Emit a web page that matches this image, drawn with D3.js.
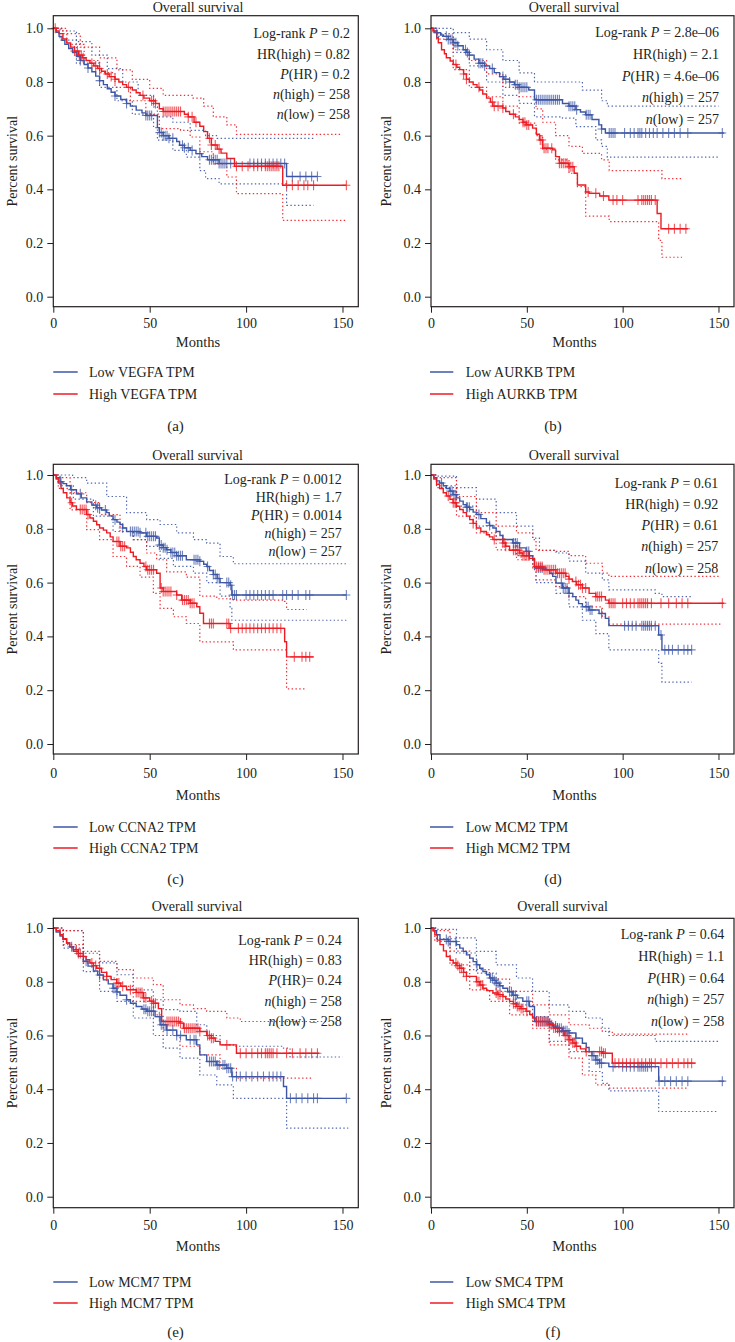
<!DOCTYPE html>
<html><head><meta charset="utf-8">
<script src="https://cdn.jsdelivr.net/npm/d3@7"></script>
<style>
body{margin:0;background:#fff}
svg{display:block}
text{font-family:"Liberation Serif","DejaVu Serif",serif;fill:#231f20}
</style>
</head><body><svg id="c" width="735" height="1342"></svg>
<script>
// ---------------- DATA ----------------
const genes = ["VEGFA","AURKB","CCNA2","MCM2","MCM7","SMC4"];
const captions = ["(a)","(b)","(c)","(d)","(e)","(f)"];
const yTicks = [0,0.2,0.4,0.6,0.8,1.0];
const xTicks = [0,50,100,150];

const stats_a = ["Log-rank *P* = 0.2","HR(high) = 0.82","*P*(HR) = 0.2","*n*(high) = 258","*n*(low) = 258"];
const stats_b = ["Log-rank *P* = 2.8e\u201306","HR(high) = 2.1","*P*(HR) = 4.6e\u201306","*n*(high) = 257","*n*(low) = 257"];
const stats_c = ["Log-rank *P* = 0.0012","HR(high) = 1.7","*P*(HR) = 0.0014","*n*(high) = 257","*n*(low) = 257"];
const stats_d = ["Log-rank *P* = 0.61","HR(high) = 0.92","*P*(HR) = 0.61","*n*(high) = 257","*n*(low) = 258"];
const stats_e = ["Log-rank *P* = 0.24","HR(high) = 0.83","*P*(HR)= 0.24","*n*(high) = 258","*n*(low) = 258"];
const stats_f = ["Log-rank *P* = 0.64","HR(high) = 1.1","*P*(HR) = 0.64","*n*(high) = 257","*n*(low) = 258"];

// (a) VEGFA
const a_low = [[0,1],[1.5,0.985],[3,0.97],[4.5,0.955],[6,0.94],[8,0.925],[10,0.91],[12,0.895],[14,0.88],[16,0.865],[18,0.852],[20,0.838],[22,0.822],[24,0.805],[26,0.79],[28,0.775],[30,0.762],[32,0.748],[35,0.735],[38,0.72],[40,0.71],[43,0.695],[46,0.685],[48,0.675],[54,0.63],[55,0.612],[57,0.6],[60,0.59],[64,0.578],[65.5,0.564],[68,0.555],[71,0.545],[74,0.533],[77,0.522],[80,0.51],[86,0.496],[121,0.448],[137,0.448]];
const a_high = [[0,1],[1.5,0.99],[3,0.98],[5,0.96],[7,0.945],[9,0.93],[11,0.915],[13,0.9],[15,0.89],[17,0.88],[19,0.87],[21,0.86],[23,0.85],[25,0.84],[27,0.83],[29,0.82],[32,0.81],[34,0.8],[36,0.79],[38,0.78],[41,0.77],[43,0.76],[45,0.75],[47,0.74],[50,0.73],[53,0.72],[55,0.7],[57,0.69],[68,0.68],[70,0.67],[73,0.65],[76,0.635],[78,0.615],[80,0.59],[82,0.565],[85,0.55],[87,0.535],[90,0.515],[94,0.486],[119,0.415],[152,0.415]];
const a_low_hi = [[0,1],[4,0.99],[12,0.95],[20,0.9],[28,0.85],[36,0.8],[44,0.75],[52,0.707],[54,0.67],[62,0.65],[71,0.62],[79,0.6],[85,0.59],[135,0.59]];
const a_low_lo = [[0,1],[3.5,0.956],[12,0.87],[24,0.78],[33,0.73],[41,0.68],[52,0.63],[54,0.583],[62,0.545],[69,0.52],[76,0.47],[79,0.44],[86,0.42],[121,0.34],[135,0.34]];
const a_high_hi = [[0,1],[5,0.98],[14,0.93],[24,0.89],[33,0.845],[41,0.81],[50,0.776],[57,0.75],[72,0.74],[78,0.71],[83,0.67],[90,0.64],[95,0.605],[150,0.605]];
const a_high_lo = [[0,1],[7,0.94],[16,0.88],[24,0.835],[32,0.78],[40,0.73],[48,0.68],[55,0.626],[66,0.62],[71,0.595],[76,0.54],[83,0.495],[90,0.446],[95,0.384],[119,0.284],[152,0.284]];
const a_low_cens = [14,18,24,32,38,48,49,50,51,55,56,57,58,59,60,62,67,68,70,72,76,81,82,83,84,85,86,87,88,89,90,92,102,104,106,108,110,112,114,116,118,120,124,128,131,134,137];
const a_high_cens = [1,11,12.5,13.5,14.5,15.5,20,22,24,28,30,32,39,46.5,51,52,53,57,58,59,60,61,62,63,64,65,66,70,72,74,81,82,84,86,95,98,101,104,106,108,110,111,112,113,114,115,116,117,121,124,127,130,132,135,152];

// (b) AURKB
const b_low = [[0,1],[1.5,0.99],[3,0.984],[5,0.975],[6.5,0.97],[9,0.958],[11.6,0.946],[14,0.935],[16.8,0.92],[18.5,0.91],[20,0.9],[22.5,0.885],[25,0.87],[28,0.86],[30.6,0.85],[33,0.835],[35.8,0.82],[38,0.81],[41,0.8],[43.5,0.79],[46,0.78],[51,0.77],[54,0.734],[68.6,0.72],[72,0.71],[75.6,0.697],[78,0.688],[80.7,0.678],[84,0.66],[87.6,0.64],[89,0.625],[91,0.61],[153,0.61]];
const b_high = [[0,1],[1,0.99],[2,0.984],[3,0.965],[3.8,0.946],[5.5,0.92],[7,0.905],[8,0.89],[10,0.878],[11.6,0.865],[13.5,0.855],[15,0.846],[17,0.83],[18.5,0.81],[20,0.8],[22,0.79],[24,0.78],[25.4,0.77],[27,0.755],[29,0.74],[31,0.725],[32.3,0.71],[37.5,0.703],[39,0.69],[41,0.68],[44,0.67],[46,0.66],[48,0.65],[49.6,0.64],[53,0.628],[55,0.605],[56.6,0.584],[58.3,0.553],[63.5,0.547],[65,0.522],[67,0.497],[72,0.484],[74.7,0.46],[76.4,0.416],[80.7,0.39],[82.5,0.385],[88,0.375],[92.8,0.36],[118,0.31],[120,0.253],[134,0.253]];
const b_low_hi = [[0,1],[11.6,0.984],[20,0.96],[29,0.92],[37.5,0.88],[46,0.834],[54,0.8],[79,0.77],[89,0.73],[92,0.71],[150,0.71]];
const b_low_lo = [[0,1],[3,0.97],[11.6,0.91],[20,0.86],[29,0.8],[37.5,0.75],[46,0.72],[54,0.67],[68.6,0.665],[75.6,0.634],[86,0.584],[89,0.56],[92,0.52],[150,0.52]];
const b_high_hi = [[0,1],[3,0.98],[11.6,0.92],[20,0.88],[29,0.83],[37.5,0.78],[46,0.745],[54.8,0.7],[58.3,0.65],[65,0.6],[72,0.56],[79,0.534],[89,0.51],[93,0.47],[119,0.47],[120.5,0.44],[131,0.44]];
const b_high_lo = [[0,1],[3,0.96],[11.6,0.846],[20,0.78],[29,0.745],[37.5,0.71],[46,0.647],[54.8,0.6],[58.3,0.55],[65,0.51],[72,0.46],[76.4,0.41],[80.7,0.3],[93,0.28],[118.8,0.21],[120.5,0.147],[131,0.147]];
const b_low_cens = [3,8,9,10,11,12,13,14,18,19,20,25,26,27,28,32,37.5,39,41,44,45,46,47,48,49,50,55,56,57,58,59,60,61,62,63,64,65,66,67,72,73,74,75,76,81,82,83,89,93,94,95,96,101,104,106,108,109,110,112,114,116,118,121,124,127,130,134,152];
const b_high_cens = [13,17,18.5,25,32,33,35,37.5,43,48,49,50,51,57,58,59,60,61,63,67,68,69,70,71,72,73,74,82,86,90,95,97,100,108,110,111,112,113,114,115,117,124,127,130,133];

// (c) CCNA2
const c_low = [[0,1],[1.5,0.99],[3.5,0.975],[5,0.968],[6.9,0.96],[9,0.945],[12,0.93],[14.5,0.915],[17.3,0.9],[20,0.888],[22.5,0.878],[25,0.87],[27.7,0.86],[29,0.848],[31,0.834],[33,0.825],[34.6,0.816],[36,0.803],[38,0.79],[45,0.785],[48.4,0.772],[53.6,0.766],[55,0.74],[57,0.73],[58.8,0.722],[61,0.712],[64,0.7],[69,0.685],[76,0.679],[78,0.668],[79.6,0.66],[81,0.645],[83,0.63],[85,0.615],[86.5,0.6],[91.7,0.59],[92.6,0.554],[152,0.554]];
const c_high = [[0,1],[1.5,0.985],[2.6,0.97],[4,0.95],[5.2,0.934],[7,0.915],[8.7,0.897],[10,0.885],[12,0.872],[17.3,0.853],[19,0.84],[20.8,0.828],[22.5,0.815],[24,0.803],[26,0.795],[27.7,0.785],[29.5,0.77],[31,0.753],[34.6,0.735],[38,0.729],[40,0.713],[41.5,0.697],[43,0.685],[45,0.672],[47,0.66],[48.4,0.648],[53.6,0.635],[55.4,0.58],[57,0.567],[64,0.554],[66.6,0.535],[71,0.523],[74.4,0.51],[76,0.486],[77.9,0.448],[91.7,0.43],[120,0.38],[121,0.324],[135,0.324]];
const c_low_hi = [[0,1],[10,0.99],[17.3,0.97],[27.7,0.92],[38,0.86],[48.4,0.834],[55.4,0.816],[64,0.785],[72.7,0.76],[79.6,0.747],[86.5,0.697],[93.4,0.67],[152,0.67]];
const c_low_lo = [[0,1],[3.5,0.96],[10.4,0.91],[20.8,0.847],[31,0.79],[41.5,0.76],[48.4,0.735],[55.4,0.69],[62.3,0.66],[72.7,0.635],[79.6,0.6],[86.5,0.55],[91.7,0.504],[92.6,0.46],[152,0.46]];
const c_high_hi = [[0,1],[1.7,0.99],[8.7,0.934],[17.3,0.897],[24,0.853],[34.6,0.79],[41.5,0.76],[48.4,0.71],[53.6,0.685],[58.8,0.64],[69,0.62],[76,0.55],[84.8,0.54],[93.4,0.535],[119.4,0.53],[121,0.5],[131.5,0.5]];
const c_high_lo = [[0,1],[2.6,0.95],[8.7,0.87],[17.3,0.797],[24,0.76],[31,0.697],[38,0.66],[45,0.62],[51.9,0.56],[55.4,0.504],[62.3,0.473],[69,0.448],[76,0.38],[93.4,0.35],[119.4,0.35],[121,0.205],[131.5,0.205]];
const c_low_cens = [4,9.5,14,22,23,24,27,32,36,40,41,42,43,44,45,48,49,50,51,52,53,55,56,57,58,59,61,62,63,64,65,66,67,73,74,75,76,80,83,84,85,86,90,91,92,93,94,95,100,102,104,106,108,110,112,114,119,121,124,127,131,133,152];
const c_high_cens = [9.5,14,15,16,17,18,33,34,35,36,37,48,49,50,51,52,56,57,58,59,60,61,64,67,68,69,70,71,72,73,81,82,83,90,91,92,96,98,100,102,104,106,108,110,112,114,116,118,125,129,131,133];

// (d) MCM2
const d_low = [[0,1],[1.5,0.99],[2.9,0.978],[4.5,0.97],[6.4,0.96],[8,0.95],[9.9,0.94],[11.5,0.927],[13.3,0.915],[15,0.903],[16.8,0.89],[18.5,0.88],[20.2,0.872],[22,0.862],[23.7,0.853],[26,0.838],[28.9,0.822],[30.5,0.812],[32.3,0.803],[34,0.79],[36,0.775],[37.5,0.76],[42.7,0.747],[46.2,0.729],[49.6,0.716],[51.3,0.7],[53.1,0.685],[54,0.654],[60,0.648],[62,0.635],[63.5,0.623],[65.2,0.598],[68.6,0.58],[72,0.56],[74,0.548],[75.6,0.535],[77,0.522],[79,0.51],[82.5,0.498],[87.7,0.485],[91,0.467],[92.8,0.44],[118.8,0.405],[120.5,0.35],[136,0.35]];
const d_high = [[0,1],[1.5,0.985],[2.9,0.965],[4.5,0.95],[6.4,0.934],[8,0.922],[9.9,0.91],[11.5,0.897],[13.3,0.884],[15,0.872],[16.8,0.86],[18.5,0.847],[20.2,0.834],[22,0.82],[23.7,0.803],[26,0.79],[28.9,0.778],[30.5,0.77],[32.3,0.76],[37.5,0.747],[39,0.735],[41,0.72],[46.2,0.71],[48,0.7],[51.3,0.69],[54,0.66],[58.3,0.648],[65.2,0.635],[70.4,0.623],[72,0.613],[73.8,0.604],[76,0.592],[79,0.58],[82.5,0.56],[86,0.548],[91,0.535],[92.8,0.523],[153,0.523]];
const d_low_hi = [[0,1],[2.9,0.996],[13.3,0.953],[23.7,0.91],[34,0.86],[44.6,0.81],[53.1,0.765],[56.6,0.72],[65.2,0.71],[72,0.68],[80.7,0.635],[89.4,0.61],[92.8,0.573],[117,0.56],[120.5,0.548],[136,0.548]];
const d_low_lo = [[0,1],[2.9,0.96],[13.3,0.884],[23.7,0.81],[34,0.76],[44.6,0.7],[53.1,0.66],[54.8,0.6],[65.2,0.56],[72,0.51],[79,0.46],[86,0.41],[92.8,0.35],[118.8,0.3],[120.5,0.23],[136,0.23]];
const d_high_hi = [[0,1],[2.9,0.99],[13.3,0.92],[23.7,0.86],[34,0.81],[44.6,0.785],[53.1,0.76],[54.8,0.72],[65.2,0.716],[72,0.7],[80.7,0.672],[89.4,0.635],[92.8,0.623],[151,0.623]];
const d_high_lo = [[0,1],[2.9,0.953],[13.3,0.847],[23.7,0.785],[34,0.722],[44.6,0.685],[53.1,0.648],[54.8,0.61],[65.2,0.585],[72,0.548],[80.7,0.51],[89.4,0.473],[92.8,0.446],[151,0.446]];
const d_low_cens = [5.5,10,11,12,13,18.5,19,20,25,30.6,37.5,43,44,45,50,51,56,57,58,68,69,70,71,72,81,82,83,84,89,101,103,105,107,110,111,112,113,114,115,117,120,122,124,126,129,132,134,136];
const d_high_cens = [9,11.6,12.5,13,22,33,37.5,38.5,39,43,44,45,46,47,48,49,50,51,55,56,57,58,59,60,61,62,63,64,65,66,67,68,69,70,72,75.6,77,78,79,80.7,86,87,88,89,93,94,95,96,100,102,104,106,108,109,110,111,112,113,115,120,124,128,131,134,152];

// (e) MCM7
const e_low = [[0,1],[1.5,0.985],[3.5,0.97],[5,0.958],[6.9,0.944],[8.5,0.93],[10.4,0.913],[13,0.895],[15.6,0.876],[18,0.858],[20.8,0.84],[23,0.825],[26,0.807],[28.5,0.792],[31,0.776],[33,0.762],[34.6,0.75],[38,0.733],[40,0.72],[43,0.708],[46,0.698],[48.4,0.69],[52.8,0.67],[55.4,0.64],[58.8,0.62],[64,0.6],[69,0.584],[74.4,0.565],[76,0.528],[79.6,0.503],[84.8,0.49],[90,0.478],[92.6,0.447],[119.4,0.41],[121,0.366],[152,0.366]];
const e_high = [[0,1],[1.5,0.99],[3.5,0.975],[5,0.96],[6.9,0.944],[8.5,0.93],[10.4,0.919],[13,0.905],[15.6,0.894],[17,0.882],[19,0.87],[20.8,0.86],[22.5,0.85],[25,0.835],[27.7,0.82],[30,0.808],[32.9,0.795],[35,0.783],[38,0.77],[43,0.76],[46.7,0.74],[50,0.728],[51.9,0.72],[54.5,0.7],[56.2,0.652],[65.7,0.646],[67.5,0.627],[76,0.615],[79.6,0.6],[82,0.59],[84,0.578],[86.5,0.565],[95,0.534],[138,0.534]];
const e_low_hi = [[0,1],[5.2,0.99],[15.6,0.906],[24,0.87],[33,0.826],[41.5,0.77],[51.9,0.733],[57,0.696],[65.7,0.69],[74.4,0.64],[79.6,0.6],[86.5,0.565],[93.4,0.56],[119.4,0.553],[122.8,0.52],[150,0.52]];
const e_low_lo = [[0,1],[5.2,0.925],[15.6,0.838],[24,0.764],[33,0.727],[41.5,0.665],[51.9,0.6],[57,0.553],[65.7,0.516],[76,0.453],[84.8,0.416],[93.4,0.366],[121,0.255],[153,0.255]];
const e_high_hi = [[0,1],[3.5,0.99],[15.6,0.913],[24,0.876],[33,0.845],[41.5,0.814],[51.9,0.789],[57,0.733],[65.7,0.714],[72.7,0.7],[79.6,0.69],[90,0.665],[97,0.652],[145,0.652]];
const e_high_lo = [[0,1],[5.2,0.938],[15.6,0.87],[24,0.814],[33,0.783],[41.5,0.727],[51.9,0.677],[57,0.6],[65.7,0.56],[76,0.528],[86.5,0.478],[95,0.441],[135,0.441]];
const e_low_cens = [9.5,17,24,31,32,33,38,47,48,49,50,51,52,55,56,57,58,59,62,64,66,71,73,74,81,82,83,84,85,86,88,89,90,91,92,93,95,97,100,103,106,109,112,114,116,118,123,126,129,132,135,137,152];
const e_high_cens = [12,13,14,15.6,20,22,24,27.7,33,34,36,40,43,44,45,46,47,48,51,52,53,59,60,61,62,63,64,65,66,68,69,70,71,72,73,74,75,76,80,81,82,83,90,97,100,103,106,108,110,111,112,113,114,116,121,124,128,131,134,137];

// (f) SMC4
const f_low = [[0,1],[1.5,0.99],[2.9,0.975],[4.7,0.957],[9,0.95],[13.3,0.938],[15,0.925],[16.8,0.913],[18.5,0.9],[20.2,0.888],[22,0.875],[23.7,0.863],[25.4,0.85],[27.1,0.838],[29,0.826],[30.6,0.814],[32.3,0.805],[34,0.795],[35.8,0.785],[37.5,0.776],[40,0.763],[42.7,0.75],[45,0.74],[47.9,0.727],[51.3,0.708],[54,0.652],[61.7,0.646],[63.5,0.635],[65.2,0.627],[68.6,0.618],[72,0.609],[75.6,0.59],[79,0.571],[81,0.555],[82.5,0.54],[84,0.525],[86,0.509],[88,0.497],[92.8,0.484],[118.8,0.43],[153,0.43]];
const f_high = [[0,1],[1,0.99],[2,0.975],[3.3,0.955],[4.7,0.938],[6.5,0.915],[8,0.894],[10,0.88],[11.6,0.87],[13.5,0.86],[15,0.85],[17,0.835],[18.5,0.82],[23.7,0.8],[25.5,0.788],[27.1,0.776],[29,0.767],[32.3,0.758],[35,0.752],[37.5,0.745],[39,0.736],[41,0.727],[43,0.718],[44.6,0.708],[47,0.7],[49.6,0.69],[51.5,0.678],[53,0.665],[54.8,0.652],[61.7,0.64],[64,0.628],[66.9,0.615],[69.5,0.6],[72,0.584],[74,0.572],[75.6,0.56],[78,0.55],[80.7,0.54],[89.4,0.534],[94.6,0.497],[138,0.497]];
const f_low_hi = [[0,1],[2.9,0.995],[13.3,0.963],[23.7,0.913],[34,0.863],[44.6,0.814],[53,0.764],[61.7,0.714],[72,0.69],[80.7,0.665],[89.4,0.627],[92.8,0.6],[117,0.578],[150,0.578]];
const f_low_lo = [[0,1],[2.9,0.96],[13.3,0.907],[23.7,0.832],[34,0.764],[44.6,0.714],[53,0.67],[61.7,0.578],[72,0.54],[82.5,0.466],[89.4,0.422],[92.8,0.394],[118.8,0.317],[150,0.317]];
const f_high_hi = [[0,1],[2,0.99],[9.9,0.914],[20.2,0.845],[30.6,0.81],[41,0.764],[53,0.714],[61.7,0.677],[72,0.64],[82.5,0.627],[89.4,0.615],[94.6,0.605],[134,0.605]];
const f_high_lo = [[0,1],[2,0.95],[9.9,0.863],[20.2,0.77],[30.6,0.727],[41,0.677],[53,0.627],[61.7,0.565],[72,0.516],[79,0.453],[86,0.416],[92.8,0.404],[134,0.404]];
const f_low_cens = [8,9,10,13,24,31,32,33,34,35,36,41,42,43,44,50,51,55,56,57,58,59,60,61,62,65,66,67,68,69,70,71,72,75.6,84,85,86,87,88,89,95,100,102,104,106,108,109,110,111,112,113,115,119,122,125,128,131,134,152];
const f_high_cens = [13,14,15,16,17,18.5,24,25,26,27,34,35,36,37.5,43,44,45,46,47,48,50,55,56,57,58,59,60,61,62,63,64,65,66,67,69,70,71,72,73,74,75,76,81,88,89,90,91,96,98,100,102,104,106,108,110,112,114,115,117,120,123,126,129,132,134,136];

// ---------------- LAYOUT ----------------
const BLUE = "#3d57a6", RED = "#ec1c24", INK = "#231f20";
const cols = [
  {left:53.3, right:358.3, xMax:158.2, ylabX:12.5, leg0:53.3, leg1:77.7, legT:89, monthsX:198, capX:175.5},
  {left:431, right:734, xMax:158.1, ylabX:386.3, leg0:430, leg1:453.3, legT:465.7, monthsX:574.5, capX:553}
];
const rows = [
  {top:15.7, bottom:306.7, y1:28.3, y0:296.7, title:7, tick:323, months:342, low:372, high:394, cap:426},
  {top:464.3, bottom:754, y1:475, y0:744, title:455, tick:773, months:795, low:827, high:848, cap:879},
  {top:918.3, bottom:1207.7, y1:928, y0:1196.7, title:906.7, tick:1225, months:1246, low:1282, high:1303, cap:1331.5}
];
const statPos = [
  {x:350, y:33.3, dy:20.2}, {x:719, y:31.7, dy:21.9},
  {x:341.7, y:479, dy:18}, {x:718.3, y:482.7, dy:21.2},
  {x:341.7, y:940, dy:20.2}, {x:724.3, y:934.3, dy:21.6}
];
const titleX = [198, 574, 197.5, 574, 197, 562.5];

const panels = [
  {gene:genes[0], stats:stats_a, low:a_low, high:a_high, lowHi:a_low_hi, lowLo:a_low_lo, highHi:a_high_hi, highLo:a_high_lo, lowC:a_low_cens, highC:a_high_cens},
  {gene:genes[1], stats:stats_b, low:b_low, high:b_high, lowHi:b_low_hi, lowLo:b_low_lo, highHi:b_high_hi, highLo:b_high_lo, lowC:b_low_cens, highC:b_high_cens},
  {gene:genes[2], stats:stats_c, low:c_low, high:c_high, lowHi:c_low_hi, lowLo:c_low_lo, highHi:c_high_hi, highLo:c_high_lo, lowC:c_low_cens, highC:c_high_cens},
  {gene:genes[3], stats:stats_d, low:d_low, high:d_high, lowHi:d_low_hi, lowLo:d_low_lo, highHi:d_high_hi, highLo:d_high_lo, lowC:d_low_cens, highC:d_high_cens},
  {gene:genes[4], stats:stats_e, low:e_low, high:e_high, lowHi:e_low_hi, lowLo:e_low_lo, highHi:e_high_hi, highLo:e_high_lo, lowC:e_low_cens, highC:e_high_cens},
  {gene:genes[5], stats:stats_f, low:f_low, high:f_high, lowHi:f_low_hi, lowLo:f_low_lo, highHi:f_high_hi, highLo:f_high_lo, lowC:f_low_cens, highC:f_high_cens}
];

// ---------------- DRAW ----------------
const svg = d3.select("#c");
function stepAt(curve, t){ let v = curve[0][1]; for (const p of curve){ if (p[0] <= t) v = p[1]; else break; } return v; }

panels.forEach((P, i) => {
  const C = cols[i % 2], R = rows[Math.floor(i / 2)];
  const x = d3.scaleLinear().domain([0, C.xMax]).range([C.left, C.right]);
  const y = d3.scaleLinear().domain([0, 1]).range([R.y0, R.y1]);
  const g = svg.append("g");
  const line = d3.line().x(d => x(d[0])).y(d => y(d[1])).curve(d3.curveStepAfter);

  g.append("text").attr("x", titleX[i]).attr("y", R.title).attr("text-anchor","middle")
    .attr("dominant-baseline","central").style("font-size","14px").text("Overall survival");

  [[P.lowHi,BLUE],[P.lowLo,BLUE],[P.highHi,RED],[P.highLo,RED]].forEach(([d,c]) => {
    g.append("path").attr("d", line(d)).attr("fill","none").attr("stroke", c)
      .attr("stroke-width",1.2).attr("stroke-dasharray","1.4,2.4").attr("opacity",0.9);
  });
  [[P.low,BLUE],[P.high,RED]].forEach(([d,c]) => {
    g.append("path").attr("d", line(d)).attr("fill","none").attr("stroke", c).attr("stroke-width",1.4);
  });
  [[P.lowC,P.low,BLUE],[P.highC,P.high,RED]].forEach(([cs,curve,c]) => {
    g.append("g").selectAll("path").data(cs).join("path")
      .attr("d", t => { const px = x(t), py = y(stepAt(curve,t)); return `M${px-4},${py}H${px+4}M${px},${py-5}V${py+5}`; })
      .attr("stroke", c).attr("stroke-width",1.1).attr("opacity",0.75).attr("fill","none");
  });

  g.append("rect").attr("x", C.left).attr("y", R.top).attr("width", C.right - C.left)
    .attr("height", R.bottom - R.top).attr("fill","none").attr("stroke", INK).attr("stroke-width",1.2);

  const ya = g.append("g").attr("transform",`translate(${C.left},0)`)
    .call(d3.axisLeft(y).tickValues(yTicks).tickFormat(d3.format(".1f")).tickSize(6).tickPadding(4));
  ya.select(".domain").remove();
  ya.selectAll("line").attr("stroke", INK).attr("stroke-width",1);
  ya.selectAll("text").style("font-size","14px").style("font-family",'"Liberation Serif",serif').attr("fill", INK);

  const xa = g.append("g").attr("transform",`translate(0,${R.bottom})`)
    .call(d3.axisBottom(x).tickValues(xTicks).tickSize(6));
  xa.select(".domain").remove();
  xa.selectAll("line").attr("stroke", INK).attr("stroke-width",1);
  xa.selectAll("text").attr("y", R.tick - R.bottom).attr("dy","0.35em")
    .style("font-size","14px").style("font-family",'"Liberation Serif",serif').attr("fill", INK);

  g.append("text").attr("transform",`translate(${C.ylabX},${(R.top+R.bottom)/2}) rotate(-90)`)
    .attr("text-anchor","middle").attr("dominant-baseline","central").style("font-size","14px").text("Percent survival");
  g.append("text").attr("x", C.monthsX).attr("y", R.months).attr("text-anchor","middle")
    .attr("dominant-baseline","central").style("font-size","14.5px").text("Months");

  const S = statPos[i];
  P.stats.forEach((s, k) => {
    const t = g.append("text").attr("x", S.x).attr("y", S.y + k * S.dy).attr("text-anchor","end")
      .attr("dominant-baseline","central").style("font-size","14px");
    s.split("*").forEach((part, j) => { if (part) t.append("tspan").style("font-style", j % 2 ? "italic" : "normal").text(part); });
  });

  [[R.low, BLUE, "Low " + P.gene + " TPM"], [R.high, RED, "High " + P.gene + " TPM"]].forEach(([ly, c, lab]) => {
    g.append("line").attr("x1", C.leg0).attr("x2", C.leg1).attr("y1", ly).attr("y2", ly).attr("stroke", c).attr("stroke-width",1.5);
    g.append("text").attr("x", C.legT).attr("y", ly).attr("dominant-baseline","central").style("font-size","14px").text(lab);
  });

  g.append("text").attr("x", C.capX).attr("y", R.cap).attr("text-anchor","middle")
    .attr("dominant-baseline","central").style("font-size","15px").text(captions[i]);
});
</script></body></html>
